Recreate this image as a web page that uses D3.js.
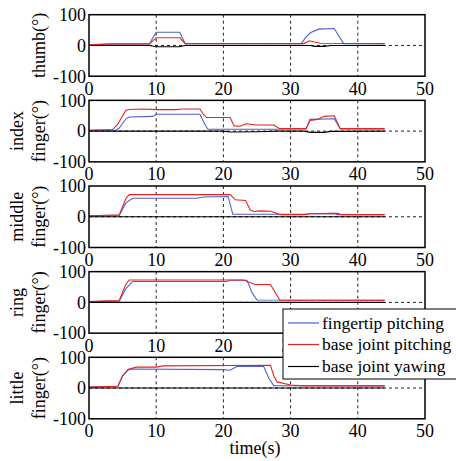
<!DOCTYPE html>
<html>
<head>
<meta charset="utf-8">
<script src="https://cdn.jsdelivr.net/npm/d3@7"></script>
<style>
  body { margin: 0; background: #fff; }
  svg { display: block; font-family: "Liberation Serif", "Times New Roman", serif; }
</style>
</head>
<body>
<div id="chart"></div>
<script>
// finger names (y labels), one subplot per finger
const fingers = [["thumb(°)"], ["index", "finger(°)"], ["middle", "finger(°)"], ["ring", "finger(°)"], ["little", "finger(°)"]];
const seriesNames = ["fingertip pitching", "base joint pitching", "base joint yawing"];
const xTicks = [0, 10, 20, 30, 40, 50];
const yTicks = [-100, 0, 100];

// [time, angle]
const thumbTip = [[0,2],[3,4],[9,5],[9.5,25],[10,43],[13.5,43],[14.3,6],[31.6,6],[32.3,28],[33,42],[34.2,53],[36.5,55],[37.2,30],[37.9,6],[44,6]];
const thumbBase = [[0,2],[3,5],[9,5],[9.5,15],[10,25],[13.5,25],[14.3,6],[32,6],[32.8,15],[33.5,11],[34.5,7],[44,6]];
const thumbYaw = [[0,0],[9,0],[10,-4],[13.5,-4],[14.3,0],[33,0],[33.5,-3],[35,-3],[36,0],[44,0]];

const indexTip = [[0,3],[4,3],[4.5,10],[5.5,40],[6,46],[9.5,48],[10,55],[16.5,55],[17.3,20],[17.7,6],[28,6],[29,7],[32.3,7],[32.9,38],[36.5,40],[37.4,7],[44,7]];
const indexBase = [[0,3],[3.5,5],[4.2,20],[5.5,68],[6,70],[8,72],[10,70],[13,70],[14,72],[16.5,72],[17,55],[17.5,44],[21,44],[21.6,17],[22.5,16],[23.4,24],[25,20],[27.5,20],[28.4,8],[32.3,8],[32.9,35],[34,38],[35,48],[36.5,50],[37.4,8],[44,8]];
const indexYaw = [[0,0],[20,0],[21,-3],[25,-2],[28,0],[32,0],[33,-4],[35,-4],[36,-1],[44,0]];

const middleTip = [[0,3],[4.5,4],[5.5,45],[6.5,60],[16,60],[17,64],[20.7,66],[21.4,8],[32,8],[33,10],[36.5,11],[37,7],[44,7]];
const middleBase = [[0,3],[2.5,5],[4.5,6],[5.5,60],[6,72],[21,72],[21.8,55],[23.3,53],[24,22],[24.5,17],[25.5,19],[27.1,18],[28.4,7],[32,7],[33,10],[37,11],[37.5,7],[44,7]];
const middleYaw = [[0,0],[44,0]];

const ringTip = [[0,3],[4.5,4],[5.5,45],[6.5,68],[20.5,68],[21,72],[23.5,72],[24.3,30],[25,8],[44,7]];
const ringBase = [[0,3],[3,5],[4.5,6],[5.5,60],[6,73],[23,73],[24.7,58],[27,58],[28.4,7],[44,7]];
const ringYaw = [[0,0],[44,0]];

const littleTip = [[0,3],[4.3,5],[5,40],[6,62],[20,60],[21,58],[22,70],[26,70],[26.8,30],[27.5,8],[44,7]];
const littleBase = [[0,3],[4.3,6],[5,40],[5.8,60],[7,68],[10,68],[11,72],[27,74],[27.5,40],[28,20],[30,10],[32,7],[44,7]];
const littleYaw = [[0,0],[44,0]];

const fingerData = [
  [thumbTip, thumbBase, thumbYaw],
  [indexTip, indexBase, indexYaw],
  [middleTip, middleBase, middleYaw],
  [ringTip, ringBase, ringYaw],
  [littleTip, littleBase, littleYaw]
];
const colors = ["#4d5fd1", "#e8231f", "#000000"];

const w = 456, h = 461;
const left = 89, right = 425;
const top0 = 14.7, step = 85.65, ph = 61.5;

const svg = d3.select("#chart").append("svg").attr("width", w).attr("height", h);

const x = d3.scaleLinear().domain([0, 50]).range([left, right]);

fingerData.forEach((series, i) => {
  const top = top0 + i * step;
  const y = d3.scaleLinear().domain([-100, 100]).range([top + ph, top]);
  const g = svg.append("g");

  // grid
  g.selectAll(".vgrid").data([10, 20, 30, 40]).enter().append("line")
    .attr("x1", d => x(d)).attr("x2", d => x(d))
    .attr("y1", top).attr("y2", top + ph)
    .attr("stroke", "#222").attr("stroke-width", 1).attr("stroke-dasharray", "3,3");
  g.append("line")
    .attr("x1", left).attr("x2", right).attr("y1", y(0)).attr("y2", y(0))
    .attr("stroke", "#222").attr("stroke-width", 1).attr("stroke-dasharray", "3,3");

  // lines
  const line = d3.line().x(d => x(d[0])).y(d => y(d[1]));
  series.forEach((s, k) => {
    g.append("path").datum(s).attr("d", line)
      .attr("fill", "none").attr("stroke", colors[k]).attr("stroke-width", 1.1);
  });

  // box
  g.append("rect").attr("x", left).attr("y", top).attr("width", right - left).attr("height", ph)
    .attr("fill", "none").attr("stroke", "#000").attr("stroke-width", 1.5);

  // ticks (ring's 40 and 50 sit under the legend)
  g.selectAll(".yt").data(yTicks).enter().append("text")
    .attr("x", 86).attr("y", d => y(d)).attr("dy", "0.35em")
    .attr("text-anchor", "end").attr("font-size", 18).text(d => d);
  g.selectAll(".xt").data(i === 3 ? xTicks.filter(d => d < 40) : xTicks).enter().append("text")
    .attr("x", d => x(d)).attr("y", top + ph + 18.5)
    .attr("text-anchor", "middle").attr("font-size", 18).text(d => d);

  // y label
  const lab = fingers[i];
  const cy = top + ph / 2;
  lab.forEach((t, j) => {
    const lx = lab.length === 1 ? 39 : (j === 0 ? 17 : 39);
    g.append("text")
      .attr("transform", "translate(" + lx + "," + cy + ") rotate(-90)")
      .attr("text-anchor", "middle").attr("dy", "0.35em")
      .attr("font-size", 18).text(t);
  });
});

// x label
svg.append("text").attr("x", 255).attr("y", 454).attr("text-anchor", "middle")
  .attr("font-size", 18).text("time(s)");

// legend
const lg = svg.append("g");
lg.append("rect").attr("x", 283).attr("y", 309).attr("width", 200).attr("height", 70)
  .attr("fill", "#fff").attr("stroke", "#000").attr("stroke-width", 1);
const ly = [323, 344.5, 366.5];
seriesNames.forEach((n, k) => {
  lg.append("line").attr("x1", 288).attr("x2", 319).attr("y1", ly[k]).attr("y2", ly[k])
    .attr("stroke", colors[k]).attr("stroke-width", 1.2);
  lg.append("text").attr("x", 322).attr("y", ly[k]).attr("dy", "0.32em")
    .attr("font-size", 17.5).text(n);
});
</script>
</body>
</html>
